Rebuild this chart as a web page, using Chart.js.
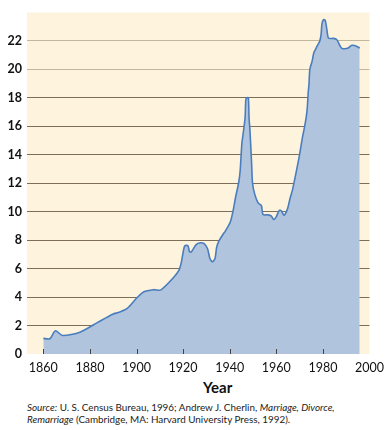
<!DOCTYPE html>
<html>
<head>
<meta charset="utf-8">
<script src="https://cdn.jsdelivr.net/npm/chart.js@4"></script>
<style>
  body { margin: 0; background: #fff; font-family: Lato, sans-serif; }
  #wrap { position: relative; width: 390px; height: 430px; }
  #box { position: absolute; left: 0; top: 0; width: 390px; height: 372px; }
  #xtitle { position: absolute; left: 203px; top: 378px; font-size: 15px; font-weight: bold; color: #111; }
  #source { position: absolute; left: 27px; top: 401px; font-size: 9.9px; line-height: 12px; color: #222; }
</style>
</head>
<body>
<div id="wrap">
  <div id="box"><canvas id="divorceChart"></canvas></div>
  <div id="xtitle">Year</div>
  <div id="source"><i>Source:</i> U. S. Census Bureau, 1996; Andrew J. Cherlin, <i>Marriage, Divorce,<br>Remarriage</i> (Cambridge, MA: Harvard University Press, 1992).</div>
</div>
<script>
// values
const years = [1860, 1862.8, 1865.2, 1868.3, 1875.7, 1883.5, 1889.8, 1892.6, 1896, 1900.3,
  1903, 1907.3, 1910.5, 1918.3, 1920.6, 1922, 1922.8, 1923.5, 1925.6, 1927.4,
  1929, 1930.5, 1931.5, 1932.6, 1933.7, 1934.4, 1935.4, 1937.3, 1938, 1940.3,
  1941.5, 1942.5, 1943.8, 1944.5, 1945.2, 1945.9, 1946.6, 1946.9, 1947.3, 1948,
  1948.3, 1948.7, 1949.4, 1949.8, 1950.8, 1952.2, 1953.6, 1954.3, 1956.4, 1957.8,
  1958.9, 1959.9, 1961.3, 1962.2, 1963.3, 1964.8, 1966, 1966.9, 1968.4, 1969.8,
  1971.2, 1971.9, 1972.8, 1973.3, 1973.7, 1974, 1974.4, 1975.4, 1976.1, 1977.5,
  1978.6, 1979.2, 1979.6, 1980.3, 1981, 1981.7, 1982.4, 1984.5, 1985.9, 1987.3,
  1988, 1989.4, 1990.8, 1992.2, 1993.6, 1995, 1995.8];
const divorceRate = [1.1, 1.07, 1.63, 1.3, 1.53, 2.24, 2.8, 2.93, 3.2, 3.97,
  4.36, 4.52, 4.5, 5.92, 7.57, 7.63, 7.17, 7.17, 7.69, 7.82,
  7.75, 7.4, 6.71, 6.49, 6.71, 7.5, 7.95, 8.45, 8.6, 9.3,
  10.1, 11.0, 12.0, 12.9, 14.75, 15.65, 16.6, 17.85, 18.0, 18.0,
  16.6, 15.7, 13.4, 12.0, 11.2, 10.62, 10.43, 9.8, 9.78, 9.7,
  9.45, 9.62, 10.1, 10.05, 9.75, 10.2, 11.0, 11.5, 12.68, 13.83,
  15.2, 15.77, 16.6, 17.3, 18.4, 18.9, 20.0, 20.6, 21.17, 21.63,
  21.97, 22.43, 23.2, 23.5, 23.45, 22.8, 22.2, 22.18, 22.1, 21.68,
  21.5, 21.45, 21.5, 21.68, 21.68, 21.58, 21.5];
const xTicks = [1860, 1880, 1900, 1920, 1940, 1960, 1980, 2000];
const yTicks = [0, 2, 4, 6, 8, 10, 12, 14, 16, 18, 20, 22];

const cream = '#fef4dd';

// cream plot background + little tick marks sitting on the baseline
const plotDecor = {
  id: 'plotDecor',
  beforeDraw(chart) {
    const a = chart.chartArea, c = chart.ctx;
    c.save();
    c.fillStyle = cream;
    c.fillRect(a.left, a.top, a.right - a.left, a.bottom - a.top);
    c.restore();
  },
  afterDatasetsDraw(chart) {
    const x = chart.scales.x, a = chart.chartArea, c = chart.ctx;
    c.save();
    c.strokeStyle = '#444';
    c.lineWidth = 1;
    xTicks.forEach(function (t) {
      if (t >= 2000) return;
      const px = Math.round(x.getPixelForValue(t)) + 0.5;
      c.beginPath();
      c.moveTo(px, a.bottom - 5);
      c.lineTo(px, a.bottom);
      c.stroke();
    });
    c.restore();
  }
};

new Chart(document.getElementById('divorceChart'), {
  type: 'line',
  data: {
    datasets: [{
      data: years.map((y, i) => ({ x: y, y: divorceRate[i] })),
      fill: 'origin',
      backgroundColor: '#b1c4de',
      borderColor: '#4a7dbd',
      borderWidth: 1.6,
      pointRadius: 0,
      tension: 0.25
    }]
  },
  options: {
    responsive: true,
    maintainAspectRatio: false,
    animation: false,
    layout: { padding: { top: 5, right: 13, left: 0, bottom: 0 } },
    plugins: { legend: { display: false }, tooltip: { enabled: false } },
    scales: {
      x: {
        type: 'linear',
        min: 1853,
        max: 2000,
        afterBuildTicks: s => { s.ticks = xTicks.map(v => ({ value: v })); },
        afterFit: s => { s.height = 18; },
        border: { display: false },
        grid: { display: false, drawTicks: false },
        ticks: {
          padding: 6,
          autoSkip: false,
          maxRotation: 0,
          color: '#111',
          font: { family: 'Lato', size: 12.5 },
          callback: v => String(v)
        }
      },
      y: {
        min: 0,
        max: 24,
        afterBuildTicks: s => { s.ticks = yTicks.map(v => ({ value: v })); },
        afterFit: s => { s.width = 27; },
        border: { display: false },
        grid: {
          drawTicks: false,
          lineWidth: 1,
          color: ctx => {
            const v = ctx.tick ? ctx.tick.value : 0;
            if (v === 0) return 'rgba(0,0,0,0)';
            return v >= 20 ? '#c3b69e' : '#7d6d59';
          }
        },
        ticks: {
          padding: 5,
          color: '#111',
          font: { family: 'Lato', size: 12.5, weight: 'bold' }
        }
      }
    }
  },
  plugins: [plotDecor]
});
</script>
</body>
</html>
